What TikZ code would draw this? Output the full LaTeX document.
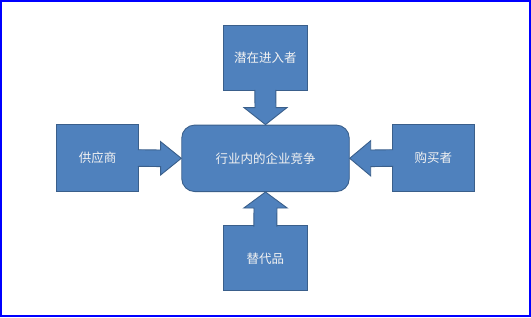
\documentclass[tikz,border=0pt]{standalone}
\usepackage{fontspec}
\newfontfamily\cjk{Noto Sans CJK SC}
\usetikzlibrary{calc}
\definecolor{boxfill}{HTML}{4F81BD}
\definecolor{boxline}{HTML}{3A5F8B}
\definecolor{boxtext}{HTML}{F2F2F2}
\tikzset{
  forcebox/.style={draw=boxline, fill=boxfill, line width=0.9pt, minimum width=84pt, minimum height=65pt, inner sep=0pt, text=boxtext, font=\cjk\fontsize{12.5}{15}\selectfont},
  corebox/.style={forcebox, rounded corners=13pt, minimum width=167.5pt, minimum height=66.5pt},
  blockarrow/.style={draw=boxline, fill=boxfill, line width=0.9pt, line join=miter}
}
\begin{document}
\begin{tikzpicture}[x=1pt, y=-1pt]
\useasboundingbox (0,0) rectangle (531,317);
\draw[blue, line width=1.6pt] (0.8,0.8) rectangle (530,316.2);

\node[corebox] (core) at (265.5,158.3) {行业内的企业竞争};
\node[forcebox] (top) at (265.3,58.2) {潜在进入者};
\node[forcebox] (bottom) at (265.3,258.3) {替代品};
\node[forcebox, minimum width=82pt, minimum height=67.4pt] (left) at (97.7,158) {供应商};
\node[forcebox, minimum width=82pt, minimum height=67.4pt] (right) at (433.3,158) {购买者};

% top arrow
\filldraw[blockarrow] ($(top.south)+(-10.5,-1.2)$) -- ($(core.north)+(-10.5,-17)$) -- ($(core.north)+(-21.5,-17)$)
  -- (core.north) -- ($(core.north)+(21.5,-17)$) -- ($(core.north)+(10.5,-17)$) -- ($(top.south)+(10.5,-1.2)$);
% bottom arrow
\filldraw[blockarrow] ($(bottom.north)+(-11.5,1.2)$) -- ($(core.south)+(-11.5,16)$) -- ($(core.south)+(-21.7,16)$)
  -- (core.south) -- ($(core.south)+(21.7,16)$) -- ($(core.south)+(11.5,16)$) -- ($(bottom.north)+(11.5,1.2)$);
% left arrow
\filldraw[blockarrow] ($(left.east)+(-1.2,-8.3)$) -- ($(core.west)+(-20.7,-8.3)$) -- ($(core.west)+(-20.7,-16.7)$)
  -- (core.west) -- ($(core.west)+(-20.7,16.7)$) -- ($(core.west)+(-20.7,8.3)$) -- ($(left.east)+(-1.2,8.3)$);
% right arrow
\filldraw[blockarrow] ($(right.west)+(1.2,-8.3)$) -- ($(core.east)+(21,-8.3)$) -- ($(core.east)+(21,-17.6)$)
  -- (core.east) -- ($(core.east)+(21,17.6)$) -- ($(core.east)+(21,8.3)$) -- ($(right.west)+(1.2,8.3)$);
\end{tikzpicture}
\end{document}
